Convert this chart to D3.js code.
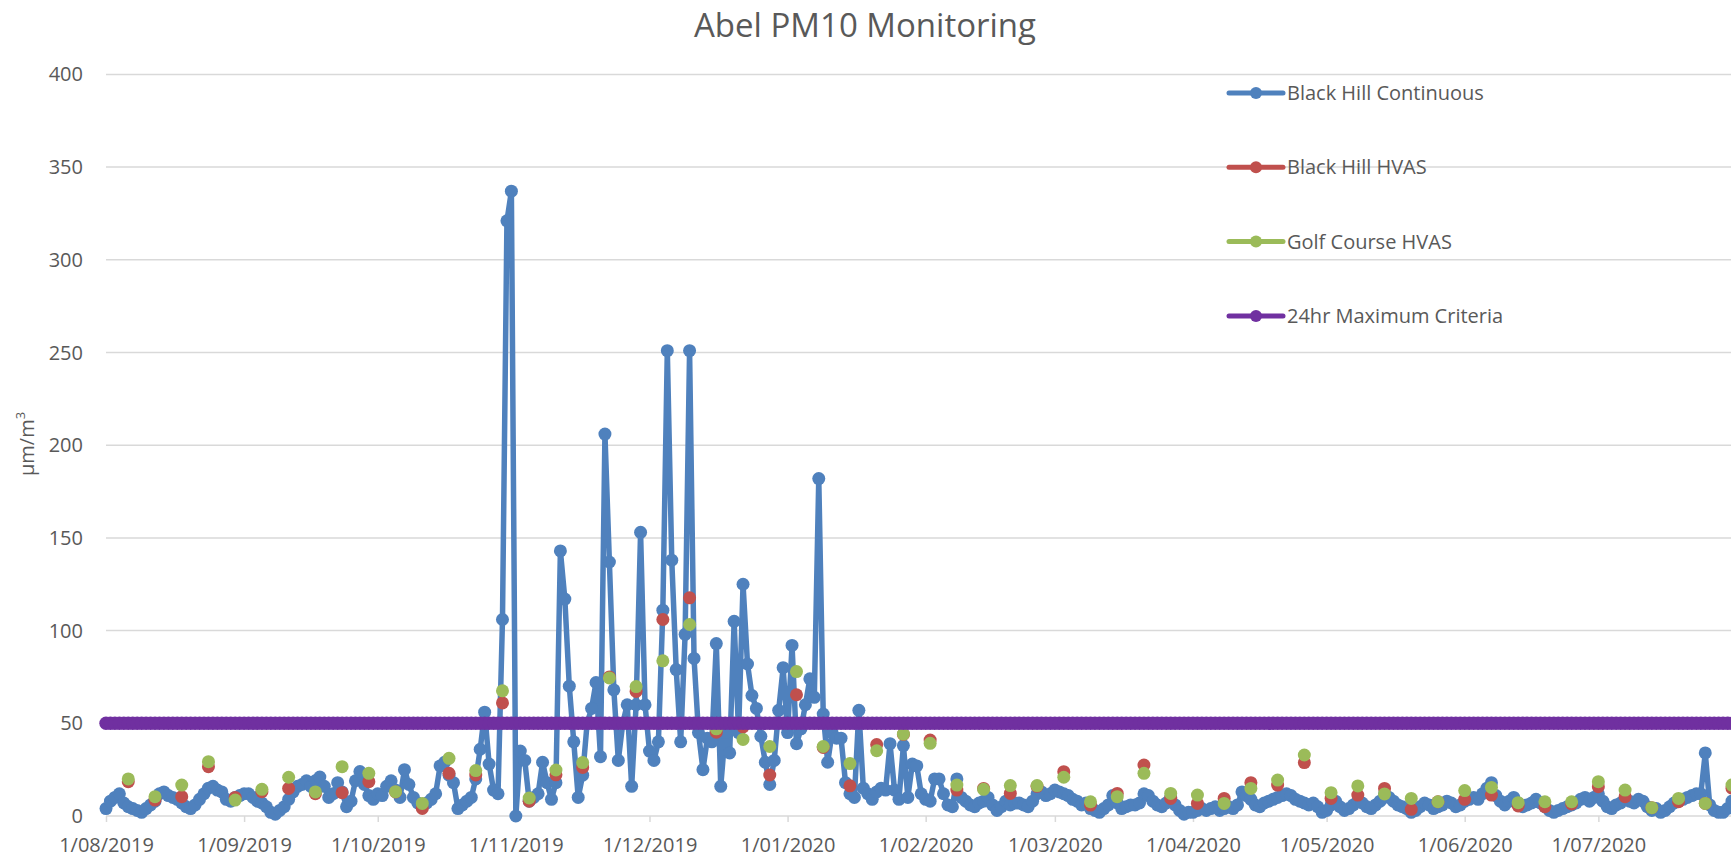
<!DOCTYPE html>
<html lang="en">
<head>
    <meta charset="UTF-8">
    <title>Abel PM10 Monitoring</title>
    <script type="application/javascript" src="https://cdnjs.cloudflare.com/ajax/libs/d3/7.8.5/d3.min.js"></script>
    <style type="text/css">
        body { margin: 0; background: #fff; }
        text { font-family: "Open Sans", "Noto Sans", sans-serif; fill: #595959; }
        .grid line { stroke: #d9d9d9; stroke-width: 1.5; }
    </style>
</head>
<body>
<svg width="1731" height="860"></svg>
<script type="application/javascript">
    // first day of the record, every series is counted in days from here
    var START = '1/08/2019';

    // Black Hill Continuous, one value a day from 1/08/2019
    var blackHillContinuous = [
        4, 8, 10, 12, 7, 5, 4, 3, 2, 4, 6, 8, 12, 13, 11, 10, 9, 7, 5, 4,
        6, 9, 12, 15, 16, 14, 13, 9, 8, 10, 11, 12, 12, 10, 8, 7, 5, 2, 1, 3,
        5, 9, 13, 16, 17, 19, 16, 19, 21, 16, 10, 12, 18, 13, 5, 8, 19, 24, 17, 11,
        9, 12, 11, 16, 19, 14, 10, 25, 17, 10, 7, 5, 7, 9, 12, 27, 29, 22, 18, 4,
        6, 8, 10, 20, 36, 56, 28, 14, 12, 106, 321, 337, 0, 35, 30, 8, 10, 12, 29, 18,
        9, 18, 143, 117, 70, 40, 10, 22, 50, 58, 72, 32, 206, 137, 68, 30, 50, 60, 16, 60,
        153, 60, 35, 30, 40, 111, 251, 138, 79, 40, 98, 251, 85, 45, 25, 42, 40, 93, 16, 45,
        34, 105, 45, 125, 82, 65, 58, 43, 29, 17, 30, 57, 80, 45, 92, 39, 47, 60, 74, 64,
        182, 55, 29, 45, 42, 42, 18, 12, 10, 57, 15, 12, 9, 13, 15, 14, 39, 14, 9, 38,
        10, 28, 27, 12, 9, 8, 20, 20, 12, 6, 5, 20, 10, 8, 6, 5, 7, 8, 10, 6,
        3, 5, 8, 6, 7, 7, 6, 5, 8, 12, 13, 11, 12, 14, 13, 12, 11, 9, 8, 6,
        7, 4, 3, 2, 4, 6, 11, 7, 4, 5, 6, 6, 7, 12, 11, 8, 6, 5, 7, 10,
        6, 3, 1, 2, 2, 3, 4, 3, 4, 5, 3, 4, 5, 4, 6, 13, 11, 9, 6, 5,
        7, 8, 9, 10, 11, 12, 11, 9, 8, 7, 6, 7, 5, 2, 3, 6, 8, 5, 3, 4,
        6, 8, 7, 5, 4, 6, 8, 12, 10, 8, 6, 5, 4, 2, 3, 5, 7, 6, 4, 5,
        6, 8, 7, 5, 6, 8, 9, 10, 9, 12, 15, 18, 11, 8, 6, 8, 10, 7, 5, 6,
        7, 9, 7, 5, 3, 2, 3, 4, 5, 6, 7, 9, 10, 8, 10, 12, 8, 5, 4, 6,
        7, 9, 8, 7, 9, 8, 5, 3, 4, 2, 3, 5, 7, 8, 9, 10, 11, 12, 12, 34,
        6, 3, 2, 2, 4, 8
    ];

    // HVAS samples, one every sixth day
    var hvasDays = [
        5, 11, 17, 23, 29, 35, 41, 47, 53, 59, 65, 71, 77, 83, 89, 95, 101, 107, 113, 119,
        125, 131, 137, 143, 149, 155, 161, 167, 173, 179, 185, 191, 197, 203, 209, 215, 221, 227, 233, 239,
        245, 251, 257, 263, 269, 275, 281, 287, 293, 299, 305, 311, 317, 323, 329, 335, 341, 347, 353, 359,
        365
    ];
    var blackHillHvas = [
        18.5, 8.6, 10.4, 26.6, 10, 13.1, 14.9, 12, 12.6, 18.5, 13, 4.1, 23, 22.1, 61, 8, 22.2, 26.2, 75, 67.2,
        106, 117.7, 45.2, 48, 22.1, 65.4, 37, 16.3, 38.5, 44, 41, 14, 14.9, 12.2, 16, 23.9, 5.9, 12.2, 27.5, 9.5,
        6.8, 9.5, 18, 16.7, 28.8, 9.5, 11.3, 14.9, 3.6, 7.7, 9, 11.3, 5.4, 5, 6.5, 15.8, 10.4, 4.5, 7.7, 6.8,
        15
    ];
    var golfCourseHvas = [
        20, 10.4, 16.7, 29.3, 8.6, 14.4, 20.9, 13, 26.6, 23, 13.1, 6.8, 31.1, 24.5, 67.5, 9.7, 24.8, 28.8, 74.5, 69.8,
        83.7, 103.3, 47, 41.3, 37.5, 77.9, 37.5, 28.3, 35.2, 44.2, 39.2, 16.7, 14.4, 16.4, 16.4, 20.9, 7.7, 10.4, 23, 12.2,
        11.3, 6.8, 14.9, 19.4, 32.9, 12.6, 16.2, 11.9, 9.5, 7.7, 13.7, 15.4, 7.2, 7.7, 7.7, 18.5, 14, 4.5, 9.5, 6.8,
        16.7
    ];
    var criteriaValue = 50;

    var yTicks = [0, 50, 100, 150, 200, 250, 300, 350, 400];
    var monthTicks = ['1/08/2019', '1/09/2019', '1/10/2019', '1/11/2019', '1/12/2019', '1/01/2020',
        '1/02/2020', '1/03/2020', '1/04/2020', '1/05/2020', '1/06/2020', '1/07/2020'];

    var seriesNames = ['Black Hill Continuous', 'Black Hill HVAS', 'Golf Course HVAS', '24hr Maximum Criteria'];
    var colors = ['#4f81bd', '#c0504d', '#9bbb59', '#7030a0'];

    var parseDate = d3.utcParse('%d/%m/%Y');
    var start = parseDate(START);
    function dayDate(d) { return d3.utcDay.offset(start, d); }

    var svg = d3.select('svg');
    var x = d3.scaleUtc()
            .domain([start, dayDate(365)])
            .range([106, 1732]);
    var y = d3.scaleLinear()
            .domain([0, 400])
            .range([816, 74.4]);

    // title
    svg.append('text')
            .attr('x', 865)
            .attr('y', 37)
            .attr('text-anchor', 'middle')
            .attr('font-size', 33)
            .text('Abel PM10 Monitoring');

    // gridlines + y labels
    var grid = svg.append('g').attr('class', 'grid');
    grid.selectAll('line')
            .data(yTicks)
            .enter().append('line')
            .attr('x1', 106).attr('x2', 1731)
            .attr('y1', function (d) { return y(d); })
            .attr('y2', function (d) { return y(d); });

    svg.append('g')
            .selectAll('text')
            .data(yTicks)
            .enter().append('text')
            .attr('x', 83)
            .attr('y', function (d) { return y(d); })
            .attr('dy', '0.35em')
            .attr('text-anchor', 'end')
            .attr('font-size', 20)
            .text(function (d) { return d; });

    // y axis title
    var yTitle = svg.append('text')
            .attr('transform', 'translate(34,444) rotate(-90)')
            .attr('text-anchor', 'middle')
            .attr('font-size', 20);
    yTitle.append('tspan').text('\u00b5m/m');
    yTitle.append('tspan').attr('font-size', 13).attr('dy', '-0.7em').text('3');

    // x axis
    var xAxis = d3.axisBottom(x)
            .tickValues(monthTicks.map(parseDate))
            .tickFormat(function (d, i) { return monthTicks[i]; })
            .tickSize(6)
            .tickSizeOuter(0);
    var gx = svg.append('g')
            .attr('transform', 'translate(0,816)')
            .call(xAxis);
    gx.select('.domain').remove();
    gx.selectAll('line').attr('stroke', '#d9d9d9').attr('stroke-width', 1.5);
    gx.selectAll('text')
            .attr('y', 22)
            .attr('dy', '0.71em')
            .attr('font-size', 20)
            .attr('font-family', '"Open Sans", sans-serif')
            .attr('fill', '#595959');

    // Black Hill Continuous
    var blueData = blackHillContinuous.map(function (v, i) { return {date: dayDate(i), value: v}; });
    var line = d3.line()
            .x(function (d) { return x(d.date); })
            .y(function (d) { return y(d.value); });
    var plot = svg.append('g');
    plot.append('path')
            .datum(blueData)
            .attr('fill', 'none')
            .attr('stroke', colors[0])
            .attr('stroke-width', 5.5)
            .attr('stroke-linejoin', 'round')
            .attr('d', line);
    plot.append('g')
            .selectAll('circle')
            .data(blueData)
            .enter().append('circle')
            .attr('cx', function (d) { return x(d.date); })
            .attr('cy', function (d) { return y(d.value); })
            .attr('r', 6.5)
            .attr('fill', colors[0]);

    // HVAS samples
    [blackHillHvas, golfCourseHvas].forEach(function (vals, k) {
        plot.append('g')
                .selectAll('circle')
                .data(vals)
                .enter().append('circle')
                .attr('cx', function (d, i) { return x(dayDate(hvasDays[i])); })
                .attr('cy', function (d) { return y(d); })
                .attr('r', 6.5)
                .attr('fill', colors[k + 1]);
    });

    // 24hr criteria
    var critData = blackHillContinuous.map(function (v, i) { return {date: dayDate(i), value: criteriaValue}; });
    plot.append('path')
            .datum(critData)
            .attr('fill', 'none')
            .attr('stroke', colors[3])
            .attr('stroke-width', 5)
            .attr('d', line);
    plot.append('g')
            .selectAll('circle')
            .data(critData)
            .enter().append('circle')
            .attr('cx', function (d) { return x(d.date); })
            .attr('cy', function (d) { return y(d.value); })
            .attr('r', 6.7)
            .attr('fill', colors[3]);

    // legend
    var legend = svg.append('g')
            .selectAll('g')
            .data(seriesNames)
            .enter().append('g')
            .attr('transform', function (d, i) { return 'translate(0,' + (93 + i * 74.3) + ')'; });
    legend.append('line')
            .attr('x1', 1229).attr('x2', 1283)
            .attr('stroke', function (d, i) { return colors[i]; })
            .attr('stroke-width', 5)
            .attr('stroke-linecap', 'round');
    legend.append('circle')
            .attr('cx', 1256)
            .attr('r', 6)
            .attr('fill', function (d, i) { return colors[i]; });
    legend.append('text')
            .attr('x', 1287)
            .attr('dy', '0.35em')
            .attr('font-size', 20)
            .text(function (d) { return d; });
</script>
</body>
</html>
